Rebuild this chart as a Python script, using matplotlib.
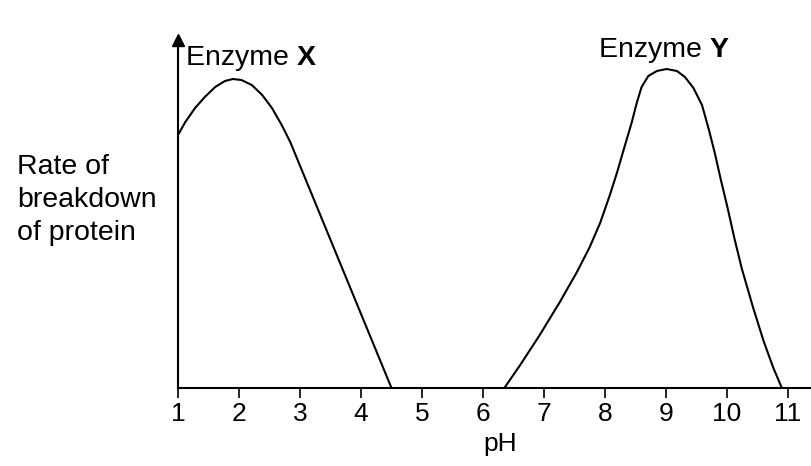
import numpy as np
import matplotlib
matplotlib.use("Agg")
import matplotlib.pyplot as plt

plt.rcParams["font.family"] = ["Liberation Sans", "DejaVu Sans"]

# --- data (pH, relative rate) ---
ph_x = [1.0, 1.12, 1.28, 1.44, 1.61, 1.77, 1.90, 2.04, 2.21, 2.38, 2.54, 2.70, 2.84, 4.50]
rate_x = [253, 266, 280, 291, 301, 307, 309, 308, 303, 293, 280, 263, 246, 0]

ph_y = [6.35, 6.61, 6.93, 7.26, 7.54, 7.75, 7.92, 8.08, 8.20, 8.30, 8.44, 8.52, 8.60,
        8.71, 8.85, 9.01, 9.18, 9.31, 9.45, 9.59, 9.70, 9.80, 9.90, 10.01, 10.12,
        10.24, 10.43, 10.60, 10.76, 10.90]
rate_y = [0, 23, 53, 86, 116, 141, 165, 193, 216, 237, 266, 285, 301,
          312, 317, 319, 317, 311, 300, 283, 259, 235, 208, 180, 150,
          120, 80, 47, 20, 0]

ticks = list(range(1, 12))

W, H = 811, 466
fig = plt.figure(figsize=(W / 100, H / 100), dpi=100)
ax = fig.add_axes([178 / W, 78 / H, 1 - 178 / W, 348 / H])

ax.plot(ph_x, rate_x, color="black", lw=1.5, solid_joinstyle="round")
ax.plot(ph_y, rate_y, color="black", lw=1.5, solid_joinstyle="round")

ax.set_xlim(1, 1 + (W - 178) / 61)
ax.set_ylim(0, 348)
ax.set_xticks(ticks)
ax.set_xticklabels([str(t) for t in ticks], fontsize=19)
ax.tick_params(axis="x", length=7, width=1.2, pad=3, direction="out")
ax.set_yticks([])

for s in ["top", "right"]:
    ax.spines[s].set_visible(False)
ax.spines["left"].set_linewidth(1.5)
ax.spines["bottom"].set_linewidth(1.5)

# arrow head on the y axis
ax.plot([1], [348], marker="^", color="black", markersize=8, clip_on=False)

ax.set_xlabel("pH", fontsize=19)
ax.xaxis.set_label_coords((500 - 178) / (W - 178), -44 / 348)

# y label as three lines to the left
for i, line in enumerate(["Rate of", "breakdown", "of protein"]):
    fig.text(17 / W, 1 - (174 + i * 33) / H, line, fontsize=20.5, ha="left", va="baseline")

# curve labels, the letter in bold
fig.canvas.draw()
renderer = fig.canvas.get_renderer()
for x0, base, letter in [(186, 65, "X"), (599, 57, "Y")]:
    t = fig.text(x0 / W, 1 - base / H, "Enzyme ", fontsize=20.5, ha="left", va="baseline")
    bb = t.get_window_extent(renderer)
    fig.text(bb.x1 / W, 1 - base / H, letter, fontsize=20.5, fontweight="bold",
             ha="left", va="baseline")

fig.savefig("out.png", dpi=100, facecolor="white")
